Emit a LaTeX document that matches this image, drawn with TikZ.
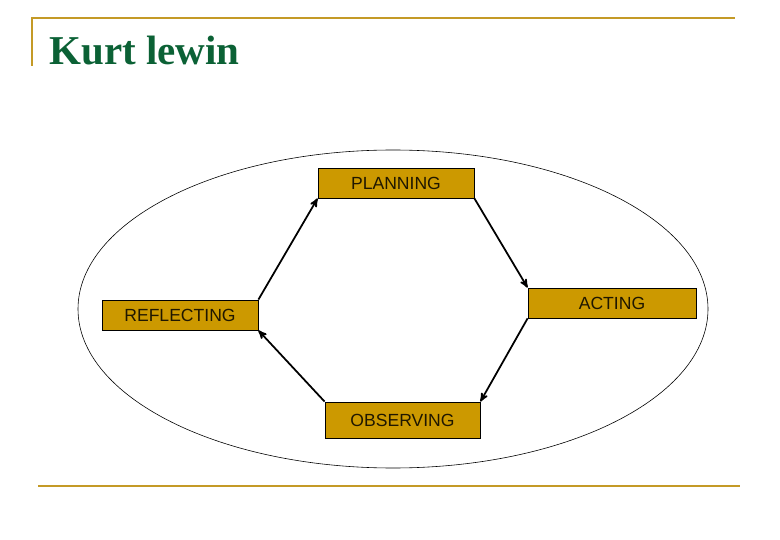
\documentclass[tikz,border=0pt]{standalone}
\usepackage{fontspec}
\setmainfont{Liberation Serif}
\setsansfont{Liberation Sans}
\usepackage{xcolor}
\usepackage{tikz}
\usetikzlibrary{arrows}
\usetikzlibrary{calc}
\usetikzlibrary{positioning}

\definecolor{goldline}{HTML}{C49A26}
\definecolor{boxfill}{HTML}{CC9900}
\definecolor{titlegreen}{HTML}{0B6135}

\begin{document}
\begin{tikzpicture}[x=0.03cm,y=-0.03cm,->,>=stealth',thick,
                    stage node/.style={rectangle,draw,fill=boxfill,line width=0.7pt,
                        inner sep=0pt,minimum height=0.9cm,text=black!85!boxfill,
                        font=\sffamily\fontsize{15}{17}\selectfont}]

    \useasboundingbox (0,0) rectangle (780,540);

    % frame lines
    \draw[-,goldline,line width=2.2pt] (32,66) -- (32,18) -- (735,18);
    \draw[-,goldline,line width=2.2pt] (38,486) -- (740,486);

    \node[anchor=base west,text=titlegreen,font=\bfseries\fontsize{35}{40}\selectfont]
        (title) at (45,65) {Kurt lewin};

    % outer cycle
    \draw[-,line width=0.5pt] (393,309) ellipse [x radius=315,y radius=159];

    \node[stage node,minimum width=4.68cm] (plan) at (396,183) {PLANNING};
    \node[stage node,minimum width=5.04cm] (act) at (612,303) {ACTING};
    \node[stage node,minimum width=4.68cm] (refl) at (180,315) {REFLECTING};
    \node[stage node,minimum width=4.65cm,minimum height=1.08cm] (obs) at (402.5,420) {OBSERVING};

    \path[line width=1.5pt]
        (refl.north east) edge (plan.south west)
        (plan.south east) edge (act.north west)
        (act.south west)  edge (obs.north east)
        (obs.north west)  edge (refl.south east);
\end{tikzpicture}
\end{document}
